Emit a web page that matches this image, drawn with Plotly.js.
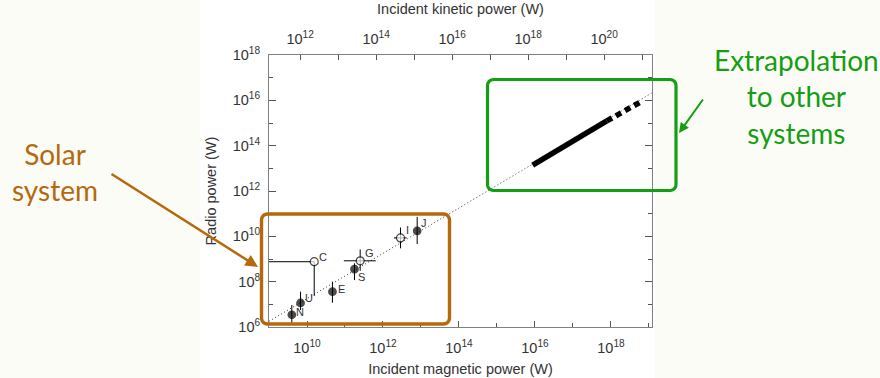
<!DOCTYPE html>
<html>
<head>
<meta charset="utf-8">
<script src="https://cdn.plot.ly/plotly-3.0.1.min.js"></script>
<style>html,body{margin:0;padding:0;background:#fcfcf7;}#chart{width:880px;height:378px;}</style>
</head>
<body>
<div id="chart"></div>
<script>
// ---- data (log10 values) ----
var bodies      = ['N', 'U', 'C', 'E', 'S', 'G', 'I', 'J'];
var openMarker  = [false, false, true, false, false, true, true, false];
var magLog      = [9.60, 9.83, 10.19, 10.67, 11.25, 11.40, 12.46, 12.90];
var magLowLog   = [9.60, 9.83, 8.50, 10.67, 11.25, 10.97, 12.29, 12.90];
var magHighLog  = [9.60, 9.83, 10.19, 10.67, 11.25, 11.81, 12.62, 12.90];
var radioLog    = [6.54, 7.06, 8.88, 7.56, 8.55, 8.92, 9.93, 10.24];
var radioLowLog = [6.18, 6.75, 7.37, 7.07, 8.07, 8.48, 9.47, 9.66];
var radioHighLog= [6.97, 7.56, 8.88, 8.00, 8.81, 9.42, 10.39, 10.86];

// dotted scaling law
var lawXLog = [9.0, 19.08];
var lawYLog = [6.25, 16.33];
// extrapolation to other systems
var extraSolidXLog = [15.94, 17.89];
var extraSolidYLog = [13.14, 15.09];
var extraDashXLog  = [17.89, 18.81];
var extraDashYLog  = [15.09, 15.96];

var bottomTicks = [10, 12, 14, 16, 18];
var bottomMinor = [9, 11, 13, 15, 17, 19];
var topTicks    = [12, 14, 16, 18, 20];
var topMinor    = [13, 15, 17, 19, 21];
var yTicks      = [6, 8, 10, 12, 14, 16, 18];
var yMinor      = [7, 9, 11, 13, 15, 17];

// ---- helpers ----
function p10(a) { return a.map(function (v) { return Math.pow(10, v); }); }
function lbl(a) { return a.map(function (v) { return '10<sup>' + v + '</sup>'; }); }

var X = p10(magLog), Y = p10(radioLog);
var xLo = p10(magLowLog), xHi = p10(magHighLog);
var yLo = p10(radioLowLog), yHi = p10(radioHighLog);

var BROWN = '#b5690c';
var GREEN = '#149e14';
var AXC = '#808080';
var TXT = '#333333';

var traces = [
  { x: p10(lawXLog), y: p10(lawYLog), mode: 'lines', type: 'scatter',
    line: { color: '#333', width: 1, dash: '1px,2.5px' }, hoverinfo: 'skip', showlegend: false },
  { x: p10(extraSolidXLog), y: p10(extraSolidYLog), mode: 'lines', type: 'scatter',
    line: { color: '#000', width: 5.5 }, hoverinfo: 'skip', showlegend: false },
  { x: p10(extraDashXLog), y: p10(extraDashYLog), mode: 'lines', type: 'scatter',
    line: { color: '#000', width: 5.5, dash: '6px,4.5px' }, hoverinfo: 'skip', showlegend: false },
  { x: X, y: Y, mode: 'markers', type: 'scatter',
    marker: { size: openMarker.map(function (o) { return o ? 8 : 7.5; }),
              color: openMarker.map(function (o) { return o ? '#ffffff' : '#000000'; }),
              line: { color: '#000', width: 1.2 } },
    error_x: { type: 'data', symmetric: false,
               array: X.map(function (v, i) { return xHi[i] - v; }),
               arrayminus: X.map(function (v, i) { return v - xLo[i]; }),
               color: '#000', thickness: 1, width: 0 },
    error_y: { type: 'data', symmetric: false,
               array: Y.map(function (v, i) { return yHi[i] - v; }),
               arrayminus: Y.map(function (v, i) { return v - yLo[i]; }),
               color: '#000', thickness: 1, width: 0 },
    hoverinfo: 'skip', showlegend: false, cliponaxis: true },
  // anchor trace for the top (kinetic power) axis
  { x: p10([topTicks[0]]), y: p10([yTicks[0]]), xaxis: 'x2', yaxis: 'y', mode: 'markers', type: 'scatter',
    marker: { opacity: 0, size: 1 }, hoverinfo: 'skip', showlegend: false }
];

// plot area in pixels
var L = 269, R = 228, T = 55, B = 51;
var PW = 880 - L - R, PH = 378 - T - B;
function px(x) { return (x - L) / PW; }
function py(y) { return (378 - B - y) / PH; }
function roundRect(x0, y0, x1, y1, r) {
  var pts = [];
  var corners = [
    [x1 - r, y0 + r, -90],
    [x1 - r, y1 - r, 0],
    [x0 + r, y1 - r, 90],
    [x0 + r, y0 + r, 180]
  ];
  corners.forEach(function (c) {
    for (var k = 0; k <= 6; k++) {
      var ang = (c[2] + k * 15) * Math.PI / 180;
      pts.push([c[0] + r * Math.cos(ang), c[1] + r * Math.sin(ang)]);
    }
  });
  return pts.map(function (p, i) {
    return (i === 0 ? 'M' : 'L') + px(p[0]).toFixed(5) + ',' + py(p[1]).toFixed(5);
  }).join(' ') + ' Z';
}

var tickFont = { family: 'Liberation Sans, Arial, sans-serif', size: 14.5, color: TXT };
var titleFont = { family: 'Liberation Sans, Arial, sans-serif', size: 14.5, color: TXT };

// point label offsets (pixels) -- style only
var labelDX = [8, 8, 9, 9, 7, 9, 7, 7];
var labelDY = [3, 5, 5, 3, -8, 8, 8, 8];
var pointLabels = bodies.map(function (b, i) {
  return { x: magLog[i], y: radioLog[i], xref: 'x', yref: 'y', text: b, showarrow: false,
           xanchor: 'center', yanchor: 'middle', xshift: labelDX[i], yshift: labelDY[i],
           font: { family: 'Liberation Sans, Arial, sans-serif', size: 11, color: TXT } };
});

var layout = {
  width: 880, height: 378,
  margin: { l: L, r: R, t: T, b: B, pad: 0 },
  paper_bgcolor: '#fcfcf7',
  plot_bgcolor: '#ffffff',
  showlegend: false,
  xaxis: {
    type: 'log', range: [9, 19.08], autorange: false,
    tickmode: 'array', tickvals: p10(bottomTicks), ticktext: lbl(bottomTicks),
    ticks: 'inside', ticklen: 6, tickcolor: '#555', tickwidth: 1, ticklabelstandoff: 8,
    minor: { tickmode: 'array', tickvals: p10(bottomMinor), ticks: 'inside', ticklen: 4, tickcolor: '#555' },
    showline: true, linecolor: AXC, linewidth: 1, mirror: true,
    showgrid: false, zeroline: false, tickfont: tickFont,
    title: { text: 'Incident magnetic power (W)', font: titleFont, standoff: 8 }
  },
  xaxis2: {
    type: 'log', range: [11.18, 21.26], autorange: false,
    overlaying: 'x', side: 'top', anchor: 'y',
    tickmode: 'array', tickvals: p10(topTicks), ticktext: lbl(topTicks),
    ticks: 'inside', ticklen: 5, tickcolor: '#555', tickwidth: 1, ticklabelstandoff: 7,
    minor: { tickmode: 'array', tickvals: p10(topMinor), ticks: 'inside', ticklen: 5, tickcolor: '#555' },
    showline: false, showgrid: false, zeroline: false, tickfont: tickFont,
    title: { text: 'Incident kinetic power (W)', font: titleFont, standoff: 10 }
  },
  yaxis: {
    type: 'log', range: [6, 18], autorange: false,
    tickmode: 'array', tickvals: p10(yTicks), ticktext: lbl(yTicks),
    ticks: 'inside', ticklen: 7, tickcolor: '#555', tickwidth: 1, ticklabelstandoff: 5,
    minor: { tickmode: 'array', tickvals: p10(yMinor), ticks: 'inside', ticklen: 4, tickcolor: '#555' },
    showline: true, linecolor: AXC, linewidth: 1, mirror: 'ticks',
    showgrid: false, zeroline: false, tickfont: tickFont,
    title: { text: 'Radio power (W)', font: titleFont, standoff: 12 }
  },
  shapes: [
    { type: 'rect', xref: 'paper', yref: 'paper', layer: 'below',
      x0: px(200), x1: px(655), y0: py(378), y1: py(0),
      fillcolor: '#ffffff', line: { width: 0 } },
    { type: 'path', xref: 'paper', yref: 'paper', path: roundRect(261.5, 214, 449.5, 324, 6),
      line: { color: BROWN, width: 3.4 } },
    { type: 'path', xref: 'paper', yref: 'paper', path: roundRect(487.5, 79.5, 676, 190.5, 6),
      line: { color: GREEN, width: 3.2 } }
  ],
  annotations: pointLabels.concat([
    { xref: 'paper', yref: 'paper', x: px(55), y: py(172), xanchor: 'center', yanchor: 'middle',
      text: 'Solar<br>system', showarrow: false,
      font: { family: 'Lato, Open Sans, sans-serif', size: 28, color: BROWN } },
    { xref: 'paper', yref: 'paper', x: px(796), y: py(96), xanchor: 'center', yanchor: 'middle',
      text: 'Extrapolation<br>to other<br>systems', showarrow: false,
      font: { family: 'Lato, Open Sans, sans-serif', size: 28, color: GREEN } },
    { xref: 'paper', yref: 'paper', x: px(258), y: py(267), text: '', showarrow: true,
      ax: 110 - 258, ay: 173 - 267, arrowcolor: BROWN, arrowwidth: 2.5, arrowhead: 2, arrowsize: 1, standoff: 0 },
    { xref: 'paper', yref: 'paper', x: px(679), y: py(133), text: '', showarrow: true,
      ax: 704 - 679, ay: 98 - 133, arrowcolor: GREEN, arrowwidth: 2, arrowhead: 2, arrowsize: 1, standoff: 0 }
  ])
};

Plotly.newPlot('chart', traces, layout, { displayModeBar: false, staticPlot: true });
</script>
</body>
</html>
